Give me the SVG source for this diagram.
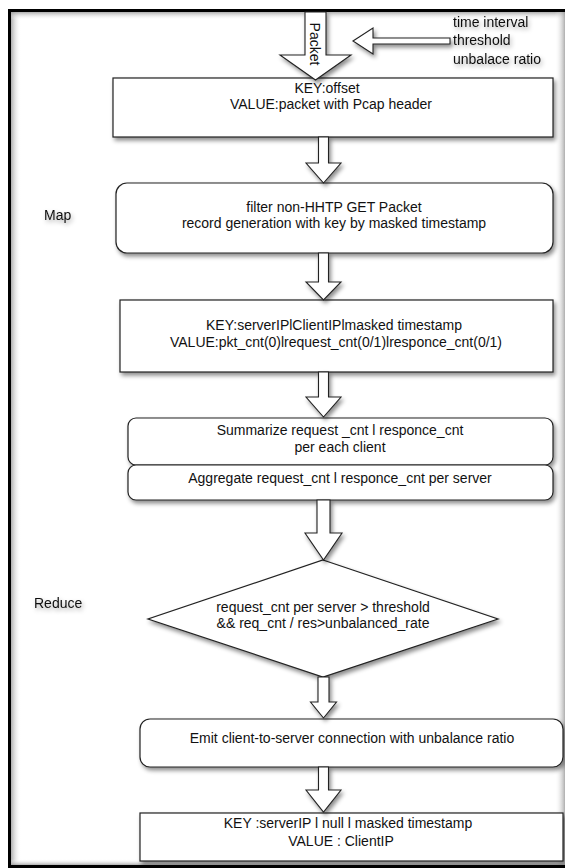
<svg xmlns="http://www.w3.org/2000/svg" width="565" height="868" viewBox="0 0 565 868">
<style>
  text { font-family: "Liberation Sans", Arial, sans-serif; font-size: 14px; fill: #111; }
  .c { text-anchor: middle; }
  .box { fill: #fff; stroke: #222; stroke-width: 1.2; }
  .arrow { fill: #fff; stroke: #222; stroke-width: 1.1; stroke-linejoin: miter; }
</style>
<defs>
  <filter id="sh" x="-20%" y="-20%" width="140%" height="160%">
    <feDropShadow dx="2" dy="3" stdDeviation="2" flood-color="#000" flood-opacity="0.45"/>
  </filter>
  <filter id="tsh" x="-20%" y="-40%" width="140%" height="200%">
    <feDropShadow dx="1.5" dy="2.5" stdDeviation="2" flood-color="#000" flood-opacity="0.35"/>
  </filter>
  <linearGradient id="gl" x1="0" y1="0" x2="1" y2="0">
    <stop offset="0" stop-color="#999" stop-opacity="0.8"/>
    <stop offset="1" stop-color="#fff" stop-opacity="0"/>
  </linearGradient>
  <linearGradient id="gr" x1="1" y1="0" x2="0" y2="0">
    <stop offset="0" stop-color="#999" stop-opacity="0.8"/>
    <stop offset="1" stop-color="#fff" stop-opacity="0"/>
  </linearGradient>
  <linearGradient id="gt" x1="0" y1="0" x2="0" y2="1">
    <stop offset="0" stop-color="#999" stop-opacity="0.8"/>
    <stop offset="1" stop-color="#fff" stop-opacity="0"/>
  </linearGradient>
  <linearGradient id="gb" x1="0" y1="1" x2="0" y2="0">
    <stop offset="0" stop-color="#999" stop-opacity="0.8"/>
    <stop offset="1" stop-color="#fff" stop-opacity="0"/>
  </linearGradient>
</defs>

<rect x="0" y="0" width="565" height="868" fill="#fff"/>
<!-- frame -->
<g id="frame">
  <rect x="9.5" y="10.5" width="600" height="856" fill="#fff" stroke="#000" stroke-width="3"/>
  <rect x="11" y="12" width="10" height="853" fill="url(#gl)"/>
  <rect x="11" y="12" width="554" height="8" fill="url(#gt)"/>
  <rect x="555" y="12" width="10" height="853" fill="url(#gr)"/>
  <rect x="11" y="859" width="554" height="6" fill="url(#gb)"/>
</g>

<!-- labels -->
<g id="label-map" filter="url(#tsh)"><text x="44" y="220">Map</text></g>
<g id="label-reduce" filter="url(#tsh)"><text x="34" y="608">Reduce</text></g>
<g id="params" filter="url(#tsh)">
  <text x="453" y="27">time interval</text>
  <text x="453" y="45">threshold</text>
  <text x="453" y="64">unbalace ratio</text>
</g>

<!-- nodes -->
<g id="n1" filter="url(#sh)">
  <rect class="box" x="113" y="78" width="440" height="59"/>
</g>
<g id="n1-text">
  <text class="c" x="327" y="93">KEY:offset</text>
  <text class="c" x="331" y="109">VALUE:packet with Pcap header</text>
</g>

<g id="n2" filter="url(#sh)">
  <rect class="box" x="116" y="183" width="437" height="70" rx="11" ry="11"/>
</g>
<g id="n2-text">
  <text class="c" x="334" y="212">filter non-HHTP GET Packet</text>
  <text class="c" x="334" y="228">record generation with key by masked timestamp</text>
</g>

<g id="n3" filter="url(#sh)">
  <rect class="box" x="120" y="300" width="433" height="72"/>
</g>
<g id="n3-text">
  <text class="c" x="334" y="330">KEY:serverIPlClientIPlmasked timestamp</text>
  <text class="c" x="336" y="347">VALUE:pkt_cnt(0)lrequest_cnt(0/1)lresponce_cnt(0/1)</text>
</g>

<g id="n4a" filter="url(#sh)">
  <rect class="box" x="128" y="418" width="425" height="47" rx="8" ry="8"/>
</g>
<g id="n4a-text">
  <text class="c" x="340" y="435">Summarize request _cnt l responce_cnt</text>
  <text class="c" x="340" y="452">per each client</text>
</g>

<g id="n4b" filter="url(#sh)">
  <rect class="box" x="128" y="465" width="425" height="35" rx="8" ry="8"/>
</g>
<g id="n4b-text">
  <text class="c" x="340" y="483">Aggregate request_cnt l responce_cnt per server</text>
</g>

<g id="n5" filter="url(#sh)">
  <polygon class="box" points="323,560 498,619 323,677 148,619"/>
</g>
<g id="n5-text">
  <text class="c" x="323" y="612">request_cnt per server &gt; threshold</text>
  <text class="c" x="323" y="628">&amp;&amp; req_cnt / res&gt;unbalanced_rate</text>
</g>

<g id="n6" filter="url(#sh)">
  <rect class="box" x="140" y="719" width="423" height="48" rx="10" ry="10"/>
</g>
<g id="n6-text">
  <text class="c" x="352" y="743">Emit client-to-server connection with unbalance ratio</text>
</g>

<g id="n7" filter="url(#sh)">
  <rect class="box" x="140" y="813" width="423" height="48"/>
</g>
<g id="n7-text">
  <text class="c" x="348" y="828">KEY :serverIP l null l masked timestamp</text>
  <text class="c" x="341" y="846">VALUE : ClientIP</text>
</g>

<!-- connectors -->
<g id="connectors" filter="url(#sh)">
  <polygon class="arrow" points="305,12 326,12 326,55 351,55 315.5,80 280,55 305,55"/>
  <polygon class="arrow" points="353,41 373,28 373,38 450,38 450,44 373,44 373,54"/>
  <polygon class="arrow" points="318.5,137 328.5,137 328.5,163 341,163 323.5,183 306,163 318.5,163"/>
  <polygon class="arrow" points="318.5,253 328.5,253 328.5,282 341,282 323.5,300 306,282 318.5,282"/>
  <polygon class="arrow" points="318.5,372 328.5,372 328.5,397 341,397 323.5,417 306,397 318.5,397"/>
  <polygon class="arrow" points="317,500 330,500 330,533 342,533 323.5,560 305,533 317,533"/>
  <polygon class="arrow" points="318,677 329,677 329,702 336.5,702 323.5,718 310.5,702 318,702"/>
  <polygon class="arrow" points="318.5,767 328.5,767 328.5,790 341,790 323.5,812 306,790 318.5,790"/>
</g>
<g id="packet-label">
  <text class="c" transform="translate(310,44) rotate(90)">Packet</text>
</g>
</svg>
